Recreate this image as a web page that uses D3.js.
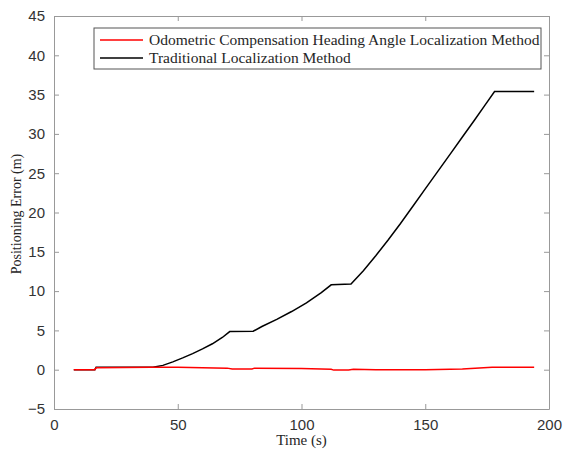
<!DOCTYPE html>
<html lang="en">
<head>
<meta charset="utf-8">
<title>Positioning Error</title>
<script src="https://d3js.org/d3.v7.min.js"></script>
<style>
  body { margin: 0; background: #fff; }
  .tick text { font-family: "Liberation Sans", Arial, sans-serif; font-size: 15px; fill: #333; }
  .serif { font-family: "Liberation Serif", "Times New Roman", serif; fill: #262626; }
</style>
</head>
<body>
<div id="chart"></div>
<script>
// data
var xTicks = [0, 50, 100, 150, 200];
var yTicks = [-5, 0, 5, 10, 15, 20, 25, 30, 35, 40, 45];

var timeRed = [8, 16.5, 17, 39, 50, 70, 72, 80, 81, 100, 112, 113, 119, 121, 130, 150, 165, 177, 194];
var errRed  = [0, 0, 0.25, 0.3, 0.3, 0.2, 0.1, 0.1, 0.2, 0.15, 0.05, -0.05, -0.05, 0.05, 0, 0, 0.1, 0.3, 0.3];

var timeBlack = [8, 16.5, 17, 40, 44, 48, 52, 56, 60, 64, 68, 71, 80.5, 84, 90, 96, 102, 108, 112, 120, 125, 130, 135, 140, 145, 150, 155, 160, 165, 170, 174, 178, 194];
var errBlack  = [0, 0, 0.3, 0.3, 0.55, 1.0, 1.5, 2.05, 2.65, 3.3, 4.1, 4.85, 4.9, 5.5, 6.4, 7.4, 8.5, 9.8, 10.8, 10.9, 12.6, 14.5, 16.5, 18.6, 20.8, 23.0, 25.2, 27.4, 29.6, 31.8, 33.6, 35.4, 35.4];

var legendLabels = ["Odometric Compensation Heading Angle Localization Method", "Traditional Localization Method"];
var legendColors = ["#ff0000", "#000000"];

var W = 566, H = 455;
var margin = {top: 16, right: 17, bottom: 46, left: 54},
    width = W - margin.left - margin.right,
    height = H - margin.top - margin.bottom;

var svg = d3.select("#chart").append("svg")
    .attr("width", W).attr("height", H);
var g = svg.append("g")
    .attr("transform", "translate(" + margin.left + "," + margin.top + ")");

var x = d3.scaleLinear().domain([0, 200]).range([0, width]);
var y = d3.scaleLinear().domain([-5, 45]).range([height, 0]);

// axes, ticks pointing inwards (box on)
function styleAxis(sel) {
  sel.select(".domain").attr("stroke", "#999");
  sel.selectAll(".tick line").attr("stroke", "#999");
}
g.append("g").attr("transform", "translate(0," + height + ")")
  .call(d3.axisBottom(x).tickValues(xTicks).tickSizeInner(-5).tickSizeOuter(0).tickPadding(10))
  .call(styleAxis);
g.append("g")
  .call(d3.axisTop(x).tickValues(xTicks).tickSizeInner(-5).tickSizeOuter(0).tickFormat(""))
  .call(styleAxis);
g.append("g")
  .call(d3.axisLeft(y).tickValues(yTicks).tickSizeInner(-5).tickSizeOuter(0).tickPadding(9))
  .call(styleAxis);
g.append("g").attr("transform", "translate(" + width + ",0)")
  .call(d3.axisRight(y).tickValues(yTicks).tickSizeInner(-5).tickSizeOuter(0).tickFormat(""))
  .call(styleAxis);

// lines
var line = d3.line()
  .x(function(d) { return x(d[0]); })
  .y(function(d) { return y(d[1]); });

var black = timeBlack.map(function(t, i) { return [t, errBlack[i]]; });
var red = timeRed.map(function(t, i) { return [t, errRed[i]]; });

g.append("path").datum(black)
  .attr("fill", "none").attr("stroke", legendColors[1]).attr("stroke-width", 1.5)
  .attr("d", line);
g.append("path").datum(red)
  .attr("fill", "none").attr("stroke", legendColors[0]).attr("stroke-width", 1.5)
  .attr("d", line);

// axis labels
svg.append("text").attr("class", "serif")
  .attr("x", margin.left + width / 2).attr("y", 445)
  .attr("text-anchor", "middle").style("font-size", "15px")
  .text("Time (s)");
svg.append("text").attr("class", "serif")
  .attr("transform", "translate(21,214) rotate(-90)")
  .attr("text-anchor", "middle").style("font-size", "14px")
  .text("Positioning Error (m)");

// legend
var lg = svg.append("g").attr("transform", "translate(94,28)");
lg.append("rect").attr("width", 447).attr("height", 41)
  .attr("fill", "#fff").attr("stroke", "#555").attr("stroke-width", 1);
legendLabels.forEach(function(lab, i) {
  var yy = 12 + i * 18;
  lg.append("line").attr("x1", 6).attr("x2", 49).attr("y1", yy).attr("y2", yy)
    .attr("stroke", legendColors[i]).attr("stroke-width", 1.5);
  lg.append("text").attr("class", "serif")
    .attr("x", 55).attr("y", yy + 5).style("font-size", "15.5px")
    .text(lab);
});
</script>
</body>
</html>
